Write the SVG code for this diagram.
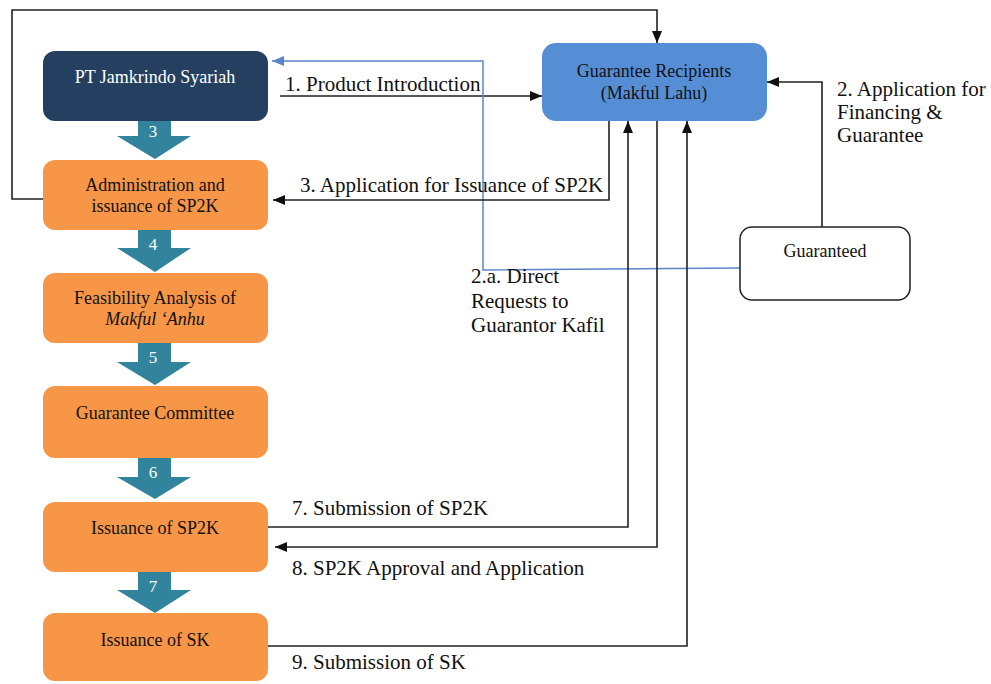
<svg xmlns="http://www.w3.org/2000/svg" width="991" height="684" viewBox="0 0 991 684">
<defs>
<style>
text{font-family:'Liberation Serif','Times New Roman',serif}
.box text{font-size:18px;text-anchor:middle}
.org rect{fill:#f79646}
.org text{fill:#111}
.lbl{font-size:21px;fill:#111}
.num{font-size:17px;fill:#fff;text-anchor:middle}
.ln{fill:none;stroke:#222;stroke-width:1.6}
.bl{fill:none;stroke:#5b85c8;stroke-width:1.5}
.step{fill:#31849b}
</style>
<marker id="ah" viewBox="0 0 12 10" refX="12" refY="5" markerWidth="12" markerHeight="10" markerUnits="userSpaceOnUse" orient="auto"><path d="M0,0L12,5L0,10z" fill="#111"/></marker>
<marker id="ahb" viewBox="0 0 12 10" refX="12" refY="5" markerWidth="12" markerHeight="10" markerUnits="userSpaceOnUse" orient="auto"><path d="M0,0L12,5L0,10z" fill="#5b85c8"/></marker>
</defs>
<rect width="991" height="684" fill="#fff"/>

<g id="connectors">
<path class="ln" d="M43,199H12V10H657V43" marker-end="url(#ah)"/>
<path class="ln" d="M280,96H542" marker-end="url(#ah)"/>
<path class="ln" d="M822,227V82H767" marker-end="url(#ah)"/>
<path class="bl" d="M740,268L483,270V61H272" marker-end="url(#ahb)"/>
<path class="ln" d="M609,121V200H273" marker-end="url(#ah)"/>
<path class="ln" d="M268,527H628V121" marker-end="url(#ah)"/>
<path class="ln" d="M657,121V547H275" marker-end="url(#ah)"/>
<path class="ln" d="M268,646H687V121" marker-end="url(#ah)"/>
<text class="lbl" x="285" y="91">1. Product Introduction</text>
<text class="lbl" x="837" y="96">2. Application for</text>
<text class="lbl" x="837" y="119">Financing &amp;</text>
<text class="lbl" x="837" y="142">Guarantee</text>
<text class="lbl" x="300" y="192">3. Application for Issuance of SP2K</text>
<text class="lbl" x="471" y="283">2.a. Direct</text>
<text class="lbl" x="471" y="308">Requests to</text>
<text class="lbl" x="471" y="332">Guarantor Kafil</text>
<text class="lbl" x="292" y="515">7. Submission of SP2K</text>
<text class="lbl" x="292" y="575">8. SP2K Approval and Application</text>
<text class="lbl" x="292" y="669">9. Submission of SK</text>
</g>

<g id="steps">
<path class="step" d="M138,117H171V136H191L155,159L117,136H138z"/>
<text class="num" x="153" y="137">3</text>
<path class="step" d="M138,230H171V248H191L155,272L117,248H138z"/>
<text class="num" x="153" y="250">4</text>
<path class="step" d="M138,343H171V362H191L155,385L117,362H138z"/>
<text class="num" x="153" y="363">5</text>
<path class="step" d="M138,458H171V477H191L155,499L117,477H138z"/>
<text class="num" x="153" y="478">6</text>
<path class="step" d="M138,572H171V590H191L155,613L117,590H138z"/>
<text class="num" x="153" y="592">7</text>
</g>

<g id="pt-jamkrindo" class="box">
<rect x="43" y="51" width="225" height="70" rx="12" fill="#243f60"/>
<text x="155" y="83" fill="#fff">PT Jamkrindo Syariah</text>
</g>
<g id="administration" class="box org">
<rect x="43" y="160" width="225" height="70" rx="12"/>
<text x="155" y="191">Administration and</text>
<text x="155" y="212">issuance of SP2K</text>
</g>
<g id="feasibility" class="box org">
<rect x="43" y="273" width="225" height="70" rx="12"/>
<text x="155" y="304">Feasibility Analysis of</text>
<text x="155" y="325" font-style="italic">Makful ‘Anhu</text>
</g>
<g id="committee" class="box org">
<rect x="43" y="386" width="225" height="72" rx="12"/>
<text x="155" y="419">Guarantee Committee</text>
</g>
<g id="issuance-sp2k" class="box org">
<rect x="43" y="502" width="225" height="70" rx="12"/>
<text x="155" y="534">Issuance of SP2K</text>
</g>
<g id="issuance-sk" class="box org">
<rect x="43" y="613" width="225" height="68" rx="12"/>
<text x="155" y="646">Issuance of SK</text>
</g>
<g id="guarantee-recipients" class="box">
<rect x="542" y="43" width="225" height="78" rx="14" fill="#558ed5"/>
<text x="654" y="77" fill="#111">Guarantee Recipients</text>
<text x="654" y="99" fill="#111">(Makful Lahu)</text>
</g>
<g id="guaranteed" class="box">
<rect x="740" y="227" width="170" height="73" rx="12" fill="#fff" stroke="#222" stroke-width="1.5"/>
<text x="825" y="257" fill="#111">Guaranteed</text>
</g>
</svg>
